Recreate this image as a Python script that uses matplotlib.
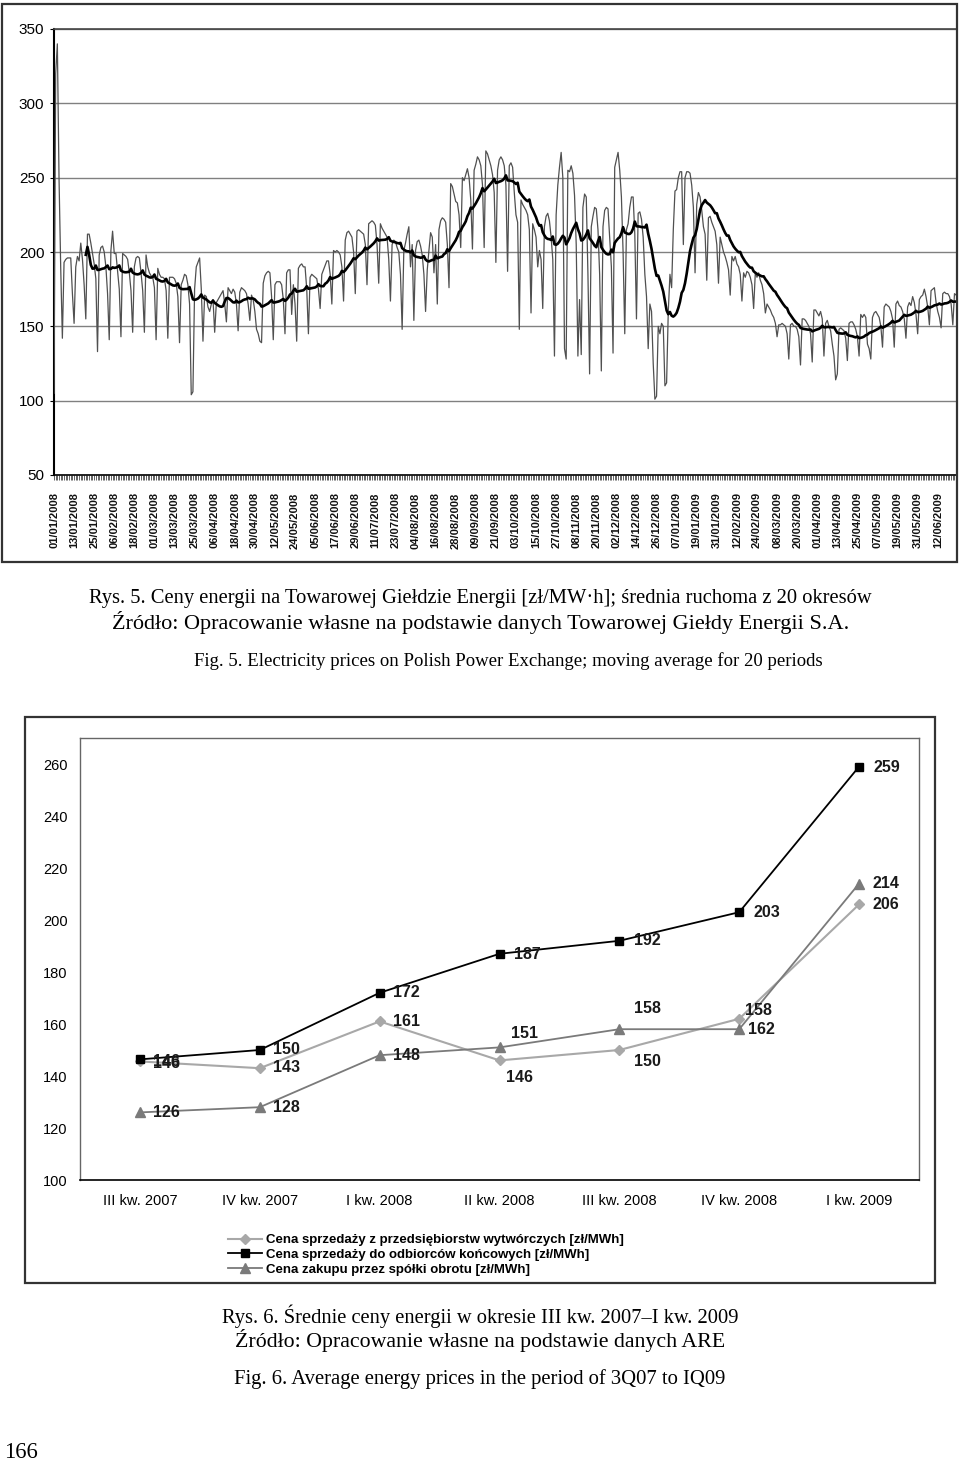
import numpy as np
import pandas as pd
import matplotlib
matplotlib.use("Agg")
import matplotlib.pyplot as plt
from matplotlib.patches import Rectangle

plt.rcParams['font.family'] = ['Liberation Sans', 'DejaVu Sans']

# ---------------- data: Fig. 5 (daily TGE prices, zl/MWh) ----------------
start_date = "2008-01-01"
daily_prices = [
    105, 320, 340, 250, 190, 142,
    193, 195, 196, 196, 196, 172, 152,
    190, 197, 194, 206, 195, 178, 155,
    212, 212, 206, 199, 192, 182, 133,
    198, 203, 204, 200, 190, 172, 141,
    201, 214, 199, 199, 187, 175, 143,
    199, 198, 197, 195, 186, 174, 146,
    190, 196, 197, 196, 186, 174, 146,
    198, 190, 186, 184, 183, 176, 141,
    189, 185, 183, 183, 182, 174, 142,
    183, 183, 183, 182, 179, 170, 139,
    178, 181, 185, 184, 178, 165, 104,
    106, 175, 190, 193, 196, 175, 140,
    171, 170, 163, 160, 165, 168, 146,
    166, 168, 170, 172, 174, 165, 153,
    176, 174, 172, 175, 173, 165, 147,
    173, 176, 175, 174, 172, 165, 154,
    171, 168, 160, 148, 145, 140, 139,
    179, 184, 186, 187, 186, 170, 141,
    178, 180, 180, 180, 178, 168, 145,
    186, 188, 188, 158, 178, 165, 140,
    189, 191, 192, 190, 190, 175, 145,
    183, 185, 184, 183, 182, 175, 162,
    185, 188, 191, 194, 194, 185, 165,
    201, 200, 201, 200, 198, 190, 167,
    208, 213, 214, 212, 210, 200, 172,
    214, 215, 214, 213, 212, 205, 178,
    219, 220, 221, 220, 218, 205, 179,
    219, 216, 214, 212, 210, 195, 167,
    205, 208, 207, 203, 200, 185, 148,
    201, 206, 212, 217, 190, 205, 154,
    201, 207, 208, 204, 198, 185, 160,
    188, 201, 213, 210, 186, 205, 165,
    215, 221, 223, 222, 220, 205, 176,
    246, 244, 239, 234, 233, 225, 203,
    250, 248, 252, 256, 250, 235, 202,
    255, 259, 264, 262, 258, 245, 203,
    268, 266, 262, 258, 252, 240, 193,
    255, 262, 264, 262, 258, 245, 187,
    258, 260, 257, 240, 225, 220, 148,
    235, 232, 230, 228, 225, 215, 159,
    219, 215, 210, 190, 201, 195, 162,
    217, 224, 226, 221, 210, 195, 130,
    225, 245, 257, 267, 250, 135, 128,
    255, 254, 258, 253, 238, 205, 130,
    168, 131, 230, 239, 237, 185, 118,
    217, 224, 230, 229, 215, 185, 120,
    217, 228, 230, 229, 210, 190, 132,
    257, 262, 267, 255, 237, 200, 145,
    215, 219, 230, 237, 237, 212, 155,
    226, 227, 222, 210, 185, 170, 135,
    165, 160, 125, 101, 103, 150, 145,
    152, 150, 110, 112, 160, 185, 176,
    215, 241, 242, 250, 254, 254, 205,
    250, 254, 254, 253, 245, 230, 186,
    232, 240, 237, 228, 217, 212, 181,
    223, 224, 220, 217, 214, 205, 179,
    210, 205, 200, 197, 193, 188, 171,
    197, 194, 197, 192, 190, 185, 167,
    186, 183, 187, 186, 183, 178, 162,
    186, 183, 186, 181, 178, 172, 159,
    165, 163, 161, 158, 156, 152, 143,
    151, 151, 152, 151, 150, 145, 128,
    151, 152, 150, 150, 148, 143, 124,
    155, 155, 154, 152, 150, 145, 126,
    161, 161, 159, 157, 160, 155, 130,
    152, 154, 150, 147, 138, 130, 114,
    118, 148, 149, 148, 147, 142, 127,
    152, 153, 153, 151, 148, 143, 130,
    158, 156, 158, 156, 138, 135, 128,
    156, 159, 160, 158, 156, 150, 136,
    163, 165, 164, 163, 160, 155, 136,
    165, 167, 164, 163, 160, 155, 142,
    163, 166, 164, 170, 166, 158, 145,
    168, 170, 171, 175, 170, 163, 151,
    174, 175, 176, 166, 160, 156, 149,
    172, 173, 172, 172, 170, 165, 151,
    172, 171,
]
ma_window = 20

# ---------------- data: Fig. 6 (quarterly averages) ----------------
quarters = ["III kw. 2007", "IV kw. 2007", "I kw. 2008", "II kw. 2008",
            "III kw. 2008", "IV kw. 2008", "I kw. 2009"]
price_producers = [145.6, 143, 161, 146, 150, 162, 206]
price_end_users = [146.4, 150, 172, 187, 192, 203, 259]
price_trading = [126, 128, 148, 151, 158, 158, 214]
legend_labels = ["Cena sprzedaży z przedsiębiorstw wytwórczych [zł/MWh]",
                 "Cena sprzedaży do odbiorców końcowych [zł/MWh]",
                 "Cena zakupu przez spółki obrotu [zł/MWh]"]

# caption text with its horizontal extent (left, right) and centre line in px
captions = [
    ("Rys. 5. Ceny energii na Towarowej Giełdzie Energii [zł/MW·h]; średnia ruchoma z 20 okresów", 88, 872, 599),
    ("Źródło: Opracowanie własne na podstawie danych Towarowej Giełdy Energii S.A.", 110, 852, 623),
    ("Fig. 5. Electricity prices on Polish Power Exchange; moving average for 20 periods", 194, 822, 661),
    ("Rys. 6. Średnie ceny energii w okresie III kw. 2007–I kw. 2009", 220, 740, 1316),
    ("Źródło: Opracowanie własne na podstawie danych ARE", 233, 727, 1341),
    ("Fig. 6. Average energy prices in the period of 3Q07 to IQ09", 233, 727, 1379),
    ("166", 4, 38, 1452),
]

# ---------------- figure ----------------
W, H = 960, 1464
fig = plt.figure(figsize=(W / 100, H / 100), dpi=100)


def ax_px(l, t, r, b):
    return fig.add_axes([l / W, 1 - b / H, (r - l) / W, (b - t) / H])


def frame_px(l, t, r, b, lw=1.6, ec="#333333"):
    fig.add_artist(Rectangle((l / W, 1 - b / H), (r - l) / W, (b - t) / H,
                             transform=fig.transFigure, fill=False, lw=lw, ec=ec))


# ---- top chart ----
frame_px(2, 4, 957, 562)
ax1 = ax_px(54, 29, 957, 475)
x = np.arange(len(daily_prices))
dates = pd.date_range(start_date, periods=len(daily_prices), freq="D")
ma = pd.Series(daily_prices, dtype=float).rolling(ma_window).mean()
ax1.plot(x, daily_prices, color="#505050", lw=0.9, zorder=3)
ax1.plot(x, ma, color="black", lw=1.9, zorder=4)
ax1.set_xlim(0, 539.5)
ax1.set_ylim(50, 350)
ax1.set_yticks(range(50, 351, 50))
ax1.yaxis.grid(True, color="#808080", lw=1.0)
ax1.set_axisbelow(True)
major = x[::12]
ax1.set_xticks(major)
ax1.set_xticklabels([dates[i].strftime("%d/%m/%Y") for i in major],
                    rotation=90, fontsize=8, fontweight="bold", va="top")
ax1.set_xticks(x, minor=True)
ax1.tick_params(axis="x", which="both", length=3.5, width=0.5, colors="#222222",
                pad=9)
ax1.tick_params(axis="x", which="both", labelcolor="#111111")
ax1.tick_params(axis="y", length=3, width=0.8, pad=4, labelsize=11)
for s in ["top", "right"]:
    ax1.spines[s].set_color("#444444")
    ax1.spines[s].set_linewidth(1.2)
ax1.spines["left"].set_linewidth(1.5)
ax1.spines["bottom"].set_linewidth(1.2)

# ---- bottom chart ----
frame_px(25, 717, 935, 1283)
ax2 = ax_px(80, 738, 919, 1180)
xq = np.arange(len(quarters))
l_prod, = ax2.plot(xq, price_producers, color="#a8a8a8", lw=1.5, marker="D", ms=5.5,
                   mfc="#a8a8a8", mec="#a8a8a8", zorder=3)
l_end, = ax2.plot(xq, price_end_users, color="black", lw=1.3, marker="s", ms=6,
                  mfc="black", mec="black", zorder=5)
l_trd, = ax2.plot(xq, price_trading, color="#7a7a7a", lw=1.3, marker="^", ms=7,
                  mfc="#7a7a7a", mec="#7a7a7a", zorder=4)
ax2.set_xlim(-0.5, 6.5)
ax2.set_ylim(100, 270)
ax2.set_yticks(range(100, 261, 20))
ax2.set_xticks(xq)
ax2.set_xticklabels(quarters, fontsize=10.5)
ax2.tick_params(axis="x", length=0, pad=10)
ax2.tick_params(axis="y", length=0, pad=9, labelsize=10.5)
for s in ["top", "right", "left"]:
    ax2.spines[s].set_color("#666666")
    ax2.spines[s].set_linewidth(1.0)
ax2.spines["bottom"].set_linewidth(1.2)

off_end = [(27, 2), (27, 0), (27, 0), (28, 1), (28, 0), (28, 0), (28, 1)]
off_prod = [(27, 2), (27, -1), (27, 0), (20, 17), (28, 11), (22, 11), (27, 0)]
off_trd = [(27, 0), (27, 0), (27, 0), (25, -14), (28, -21), (19, -19), (27, 0)]
for vals, offs in [(price_producers, off_prod), (price_trading, off_trd),
                   (price_end_users, off_end)]:
    for i, v in enumerate(vals):
        dx, dy = offs[i]
        ax2.annotate(f"{v:.0f}", (xq[i], v), xytext=(dx, -dy),
                     textcoords="offset pixels", ha="center", va="center",
                     fontsize=11.5, fontweight="bold", color="#1a1a1a", zorder=6)

leg = fig.legend([l_prod, l_end, l_trd], legend_labels, loc="upper left",
                 bbox_to_anchor=(228 / W, 1 - 1234 / H), frameon=False,
                 prop={"size": 9.5, "weight": "bold"}, borderpad=0,
                 borderaxespad=0, handlelength=2.6, handletextpad=0.3,
                 labelspacing=0.2)

# ---- captions (each fitted to its width in the reference) ----
renderer = fig.canvas.get_renderer()
serif = ["Liberation Serif", "DejaVu Serif"]
for s, x0, x1, yc in captions:
    t = fig.text((x0 + x1) / 2 / W, 1 - yc / H, s, ha="center", va="center",
                 fontsize=14, family=serif)
    w = t.get_window_extent(renderer).width
    t.set_fontsize(14 * (x1 - x0) / w)

fig.savefig("out.png", dpi=100, facecolor="white")
